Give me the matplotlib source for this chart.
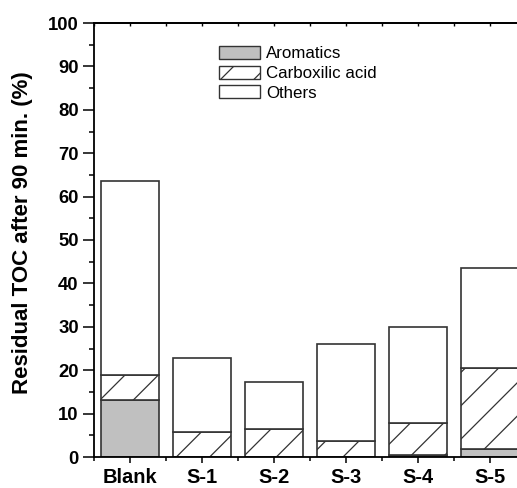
import matplotlib
matplotlib.use("Agg")
import matplotlib.pyplot as plt
from matplotlib.patches import Patch
from matplotlib.ticker import MultipleLocator, FixedLocator
import numpy as np

plt.rcParams['font.family'] = ['Liberation Sans', 'DejaVu Sans']
plt.rcParams['hatch.linewidth'] = 0.9
plt.rcParams['hatch.color'] = '#222222'

categories = ["Blank", "S-1", "S-2", "S-3", "S-4", "S-5"]
aromatics = [13.2, 0.0, 0.0, 0.0, 0.4, 1.9]
carboxylic = [5.8, 5.7, 6.4, 3.8, 7.5, 18.5]
others = [44.5, 17.0, 10.9, 22.2, 22.1, 23.2]

fig = plt.figure(figsize=(5.17, 4.88), dpi=100)
ax = fig.add_axes([94/517, 1-457/488, (526-94)/517, (457-23)/488])

x = np.arange(len(categories))
w = 0.8
edge = '#333333'
lw = 1.2
a = np.array(aromatics)
c = np.array(carboxylic)
o = np.array(others)
ax.bar(x, a, w, color='#c0c0c0', edgecolor=edge, linewidth=lw, zorder=2)
ax.bar(x, c, w, bottom=a, color='white', edgecolor=edge, linewidth=lw, hatch='/', zorder=2)
ax.bar(x, o, w, bottom=a+c, color='white', edgecolor=edge, linewidth=lw, zorder=2)

ax.set_xlim(-0.5, len(categories) - 0.5)
ax.set_ylim(0, 100)
ax.set_xticks(x)
ax.set_xticklabels(categories, fontsize=14.5, fontweight='bold')
ax.xaxis.set_minor_locator(FixedLocator(np.arange(-0.5, len(categories), 1.0)))
ax.yaxis.set_major_locator(MultipleLocator(10))
ax.yaxis.set_minor_locator(MultipleLocator(5))
for lab in ax.get_yticklabels():
    lab.set_fontweight('bold')
    lab.set_fontsize(13.3)
ax.tick_params(axis='y', which='major', direction='out', length=8, width=1.1, pad=3)
ax.tick_params(axis='y', which='minor', direction='out', length=3.5, width=1.1)
ax.tick_params(axis='x', which='major', direction='out', length=4, width=1.1, pad=4)
ax.tick_params(axis='x', which='minor', direction='out', length=3, width=1.1)
sec = ax.secondary_xaxis('top')
sec.set_xticks(x)
sec.set_xticklabels([])
sec.xaxis.set_minor_locator(FixedLocator(np.arange(-0.5, len(categories), 1.0)))
sec.tick_params(which='both', direction='in', length=2.5, width=1.0, labeltop=False)
sec.spines['top'].set_linewidth(1.3)
for s in ax.spines.values():
    s.set_linewidth(1.3)
ax.set_ylabel("Residual TOC after 90 min. (%)", fontsize=16, fontweight='bold')
ax.yaxis.set_label_coords((33-94)/432, (457-232.5)/434)

handles = [Patch(facecolor='#c0c0c0', edgecolor=edge, linewidth=1.0),
           Patch(facecolor='white', edgecolor=edge, linewidth=1.0, hatch='/'),
           Patch(facecolor='white', edgecolor=edge, linewidth=1.0)]
leg = fig.legend(handles, ["Aromatics", "Carboxilic acid", "Others"],
                 loc='upper left', bbox_to_anchor=(219/517, 1-46/488),
                 bbox_transform=fig.transFigure, frameon=False, fontsize=12.2,
                 handlelength=2.4, handleheight=0.8, handletextpad=0.4,
                 labelspacing=0.25, borderpad=0, borderaxespad=0)

fig.savefig("out.png", dpi=100)
